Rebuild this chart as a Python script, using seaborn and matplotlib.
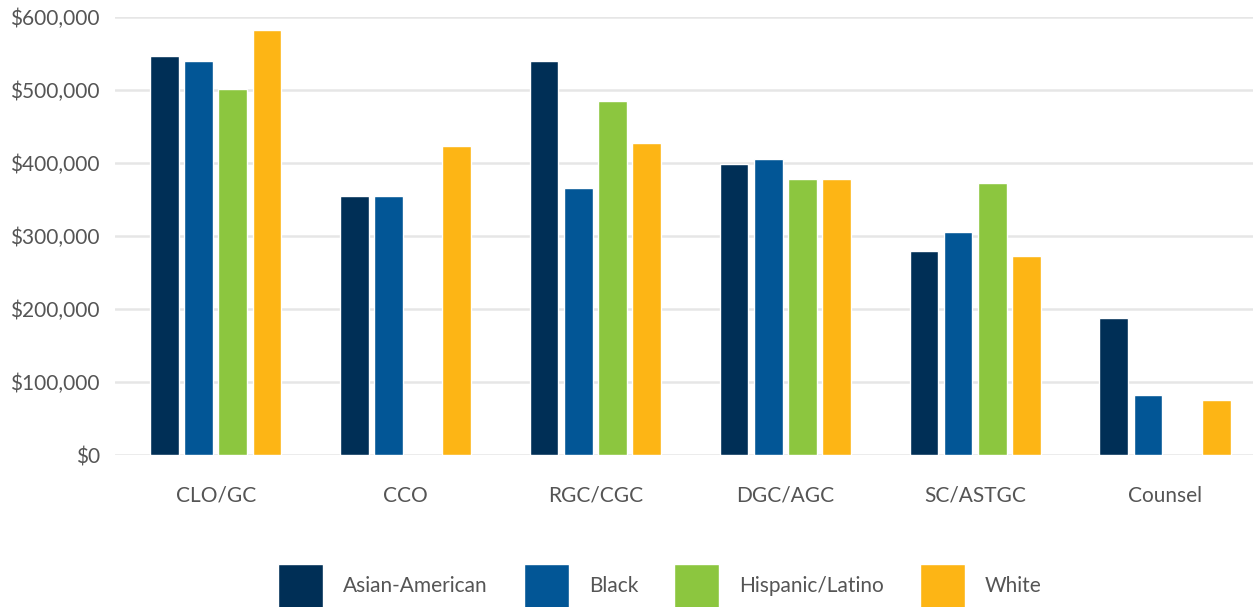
import pandas as pd
import numpy as np
import matplotlib
matplotlib.use("Agg")
import matplotlib.pyplot as plt
import matplotlib.ticker as mticker
import seaborn as sns

# Data
roles = ["CLO/GC", "CCO", "RGC/CGC", "DGC/AGC", "SC/ASTGC", "Counsel"]
groups = ["Asian-American", "Black", "Hispanic/Latino", "White"]
asian = [547000, 355000, 540000, 399000, 279000, 188000]
black = [540000, 355000, 366000, 405000, 305000, 82000]
hispanic = [501000, np.nan, 485000, 378000, 373000, np.nan]
white = [582000, 423000, 427000, 378000, 273000, 75000]
colors = ["#002f56", "#025696", "#8cc63f", "#fdb515"]

df = pd.DataFrame({"Role": roles, "Asian-American": asian, "Black": black,
                   "Hispanic/Latino": hispanic, "White": white})
long = df.melt(id_vars="Role", var_name="Group", value_name="Pay")

sns.set_style("white")
plt.rcParams['font.family'] = ['Lato', 'DejaVu Sans']

fig = plt.figure(figsize=(12.53, 6.07), dpi=100)
# axes runs a little past the right edge so the groups line up with the reference
ax = fig.add_axes([115/1253, 152/607, 1145/1253, 438/607])

sns.barplot(data=long, x="Role", y="Pay", hue="Group", order=roles,
            hue_order=groups, palette=colors, width=0.72, gap=0.16,
            saturation=1, ax=ax, legend=True)

ax.set_ylim(0, 600000)
ax.set_xlim(-0.53, 5.5)
ax.yaxis.set_major_locator(mticker.MultipleLocator(100000))
ax.yaxis.set_major_formatter(mticker.FuncFormatter(lambda v, p: f"${v:,.0f}"))
ax.grid(axis="y", color="#e6e6e6", linewidth=1.8)
ax.set_axisbelow(True)
for s in ax.spines.values():
    s.set_visible(False)
ax.tick_params(axis="x", length=0, pad=22, labelsize=15, labelcolor="#555555")
ax.tick_params(axis="y", length=0, pad=11, labelsize=15, labelcolor="#555555")
ax.set_xlabel("")
ax.set_ylabel("")

handles, labels = ax.get_legend_handles_labels()
ax.get_legend().remove()
fig.legend(handles, labels, loc="center", bbox_to_anchor=(660/1253, 1 - 586/607),
           ncol=4, frameon=False, fontsize=15, labelcolor="#555555",
           handlelength=2.16, handleheight=2.88, handletextpad=0.96,
           columnspacing=1.73)

fig.savefig("out.png", dpi=100)
